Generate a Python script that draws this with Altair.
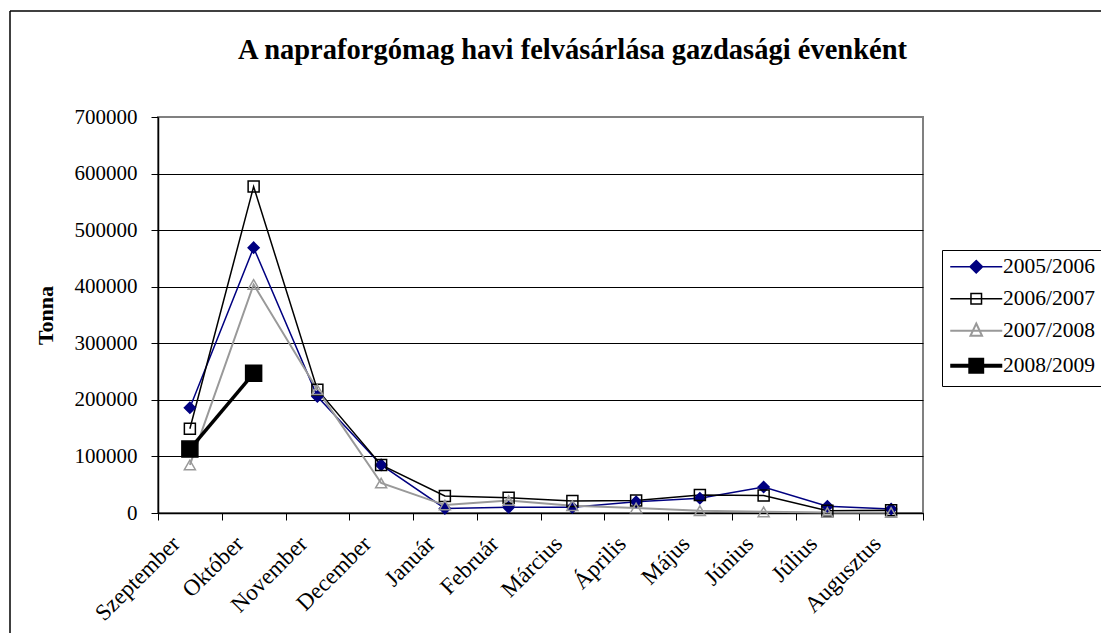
import altair as alt
import pandas as pd

months = ["Szeptember", "Október", "November", "December", "Január", "Február",
          "Március", "Április", "Május", "Június", "Július", "Augusztus"]
series = ["2005/2006", "2006/2007", "2007/2008", "2008/2009"]

v2005 = [186000, 469000, 206000, 85000, 8000, 10000, 10000, 20000, 26000, 46000, 12000, 7000]
v2006 = [149000, 577000, 218000, 85000, 30000, 27000, 21000, 22000, 32000, 31000, 4000, 5000]
v2007 = [85000, 404000, 218000, 53000, 14000, 22000, 13000, 9000, 4000, 2000, 1000, 1000]
v2008 = [113000, 247000]

y_ticks = [0, 100000, 200000, 300000, 400000, 500000, 600000, 700000]

colors = ["#000080", "#000000", "#999999", "#000000"]
line_widths = [1.5, 1.5, 2, 3.5]
legend_widths = [1.5, 1.5, 2, 4]
marker_shapes = ["diamond", "square", "triangle-up", "square"]
marker_fills = ["#000080", "transparent", "transparent", "#000000"]
marker_sizes = [121, 121, 121, 256]
legend_paths = [
    "M-3.06,0H3.06M0,-0.74L0.74,0L0,0.74L-0.74,0Z",
    "M-3.06,0H3.06M-0.62,-0.62H0.62V0.62H-0.62Z",
    "M-3.06,0H3.06M0,-0.85L0.68,0.6L-0.68,0.6Z",
    "M-3.06,0H3.06M-0.7,-0.7H0.7V0.7H-0.7Z",
]

rows = []
for s, vals in zip(series, [v2005, v2006, v2007, v2008]):
    for i, (m, v) in enumerate(zip(months, vals)):
        rows.append({"month": m, "series": s, "value": v, "idx": i})
df = pd.DataFrame(rows)

FONT = "Liberation Serif"

x_enc = alt.X(
    "month:N", sort=months, bandPosition=0.5,
    scale=alt.Scale(type="band", domain=months, paddingInner=0, paddingOuter=0),
    axis=alt.Axis(title=None, labelAngle=-45, tickBand="extent", grid=False,
                  labelFont=FONT, labelFontSize=23, labelColor="black",
                  labelPadding=12, labelOffset=-22, tickSize=7, tickColor="black",
                  domainColor="black", domainWidth=1.5),
)
y_enc = alt.Y(
    "value:Q",
    scale=alt.Scale(domain=[0, 700000], nice=False),
    axis=alt.Axis(values=y_ticks, format="d", title="Tonna",
                  titleFont=FONT, titleFontSize=22, titleFontWeight="bold",
                  titleColor="black", titlePadding=17,
                  labelFont=FONT, labelFontSize=21, labelColor="black",
                  labelPadding=14, tickSize=7, tickColor="black",
                  domainColor="black", domainWidth=1.5,
                  gridColor={"condition": {"test": "datum.value >= 700000", "value": "#808080"},
                             "value": "black"},
                  gridWidth=1),
)

lines = alt.Chart(df).mark_line().encode(
    x=x_enc, y=y_enc,
    stroke=alt.Stroke("series:N", scale=alt.Scale(domain=series, range=colors), legend=None),
    strokeWidth=alt.StrokeWidth("series:N", scale=alt.Scale(type="ordinal", domain=series, range=line_widths), legend=None),
    order=alt.Order("idx:Q"),
)

points = alt.Chart(df).mark_point(opacity=1, strokeWidth=1.5).encode(
    x=x_enc, y=y_enc,
    shape=alt.Shape("series:N", scale=alt.Scale(domain=series, range=marker_shapes), legend=None),
    stroke=alt.Stroke("series:N", scale=alt.Scale(domain=series, range=colors), legend=None),
    fill=alt.Fill("series:N", scale=alt.Scale(domain=series, range=marker_fills), legend=None),
    size=alt.Size("series:N", scale=alt.Scale(type="ordinal", domain=series, range=marker_sizes), legend=None),
)

leg = alt.Legend(orient="none", legendX=784, legendY=133, title=None,
                 strokeColor="black", fillColor="white", padding=6,
                 symbolOffset=17.5, labelOffset=16, symbolSize=289,
                 symbolOpacity=1, labelFont=FONT, labelFontSize=21.5,
                 labelColor="black", rowPadding=9, labelLimit=0)

legend_layer = alt.Chart(df).mark_point(opacity=0).encode(
    x=x_enc, y=y_enc,
    shape=alt.Shape("series:N", scale=alt.Scale(domain=series, range=legend_paths), legend=leg),
    stroke=alt.Stroke("series:N", scale=alt.Scale(domain=series, range=colors), legend=leg),
    fill=alt.Fill("series:N", scale=alt.Scale(domain=series, range=marker_fills), legend=leg),
    strokeWidth=alt.StrokeWidth("series:N", scale=alt.Scale(type="ordinal", domain=series, range=legend_widths), legend=leg),
)

frame_data = alt.Data(values=[{"k": 1}])
frame_top = alt.Chart(frame_data).mark_rule(color="black", strokeWidth=1.5).encode(
    x=alt.value(-148), x2=alt.value(1100), y=alt.value(-106))
frame_left = alt.Chart(frame_data).mark_rule(color="black", strokeWidth=1.5).encode(
    x=alt.value(-148), y=alt.value(-106), y2=alt.value(600))

chart = alt.layer(frame_top, frame_left, lines, points, legend_layer).resolve_scale(
    shape="independent", stroke="independent", fill="independent",
    strokeWidth="independent", size="independent",
).properties(
    width=765, height=396,
    title=alt.Title("A napraforgómag havi felvásárlása gazdasági évenként",
                    font=FONT, fontSize=28.5, fontWeight="bold", color="black",
                    anchor="middle", dx=32, offset=0, dy=54),
    autosize=alt.AutoSizeParams(type="none"),
    padding={"left": 150, "top": 109, "right": 178, "bottom": 120},
    background="white",
).configure_view(stroke="#808080", strokeWidth=2)

chart.save("out.html", embed_options={"renderer": "svg", "actions": False})
